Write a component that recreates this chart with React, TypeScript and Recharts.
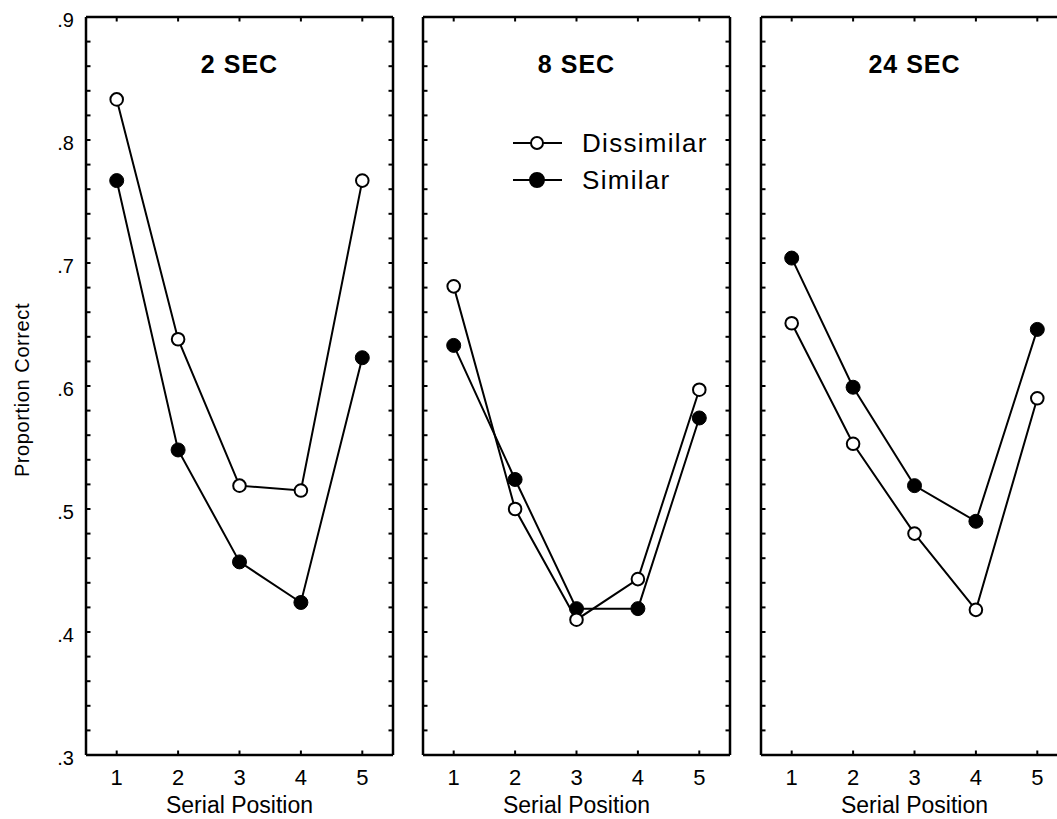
import React from 'react';
import { LineChart, Line, XAxis, YAxis, Legend } from 'recharts';

const positions = [1, 2, 3, 4, 5];
const panelTitles = ['2 SEC', '8 SEC', '24 SEC'];
const dissimilar2 = [0.833, 0.638, 0.519, 0.515, 0.767];
const similar2 = [0.767, 0.548, 0.457, 0.424, 0.623];
const dissimilar8 = [0.681, 0.5, 0.41, 0.443, 0.597];
const similar8 = [0.633, 0.524, 0.419, 0.419, 0.574];
const dissimilar24 = [0.651, 0.553, 0.48, 0.418, 0.59];
const similar24 = [0.704, 0.599, 0.519, 0.49, 0.646];
const yTicks = [
  0.3, 0.32, 0.34, 0.36, 0.38, 0.4, 0.42, 0.44, 0.46, 0.48, 0.5, 0.52, 0.54, 0.56, 0.58,
  0.6, 0.62, 0.64, 0.66, 0.68, 0.7, 0.72, 0.74, 0.76, 0.78, 0.8, 0.82, 0.84, 0.86, 0.88, 0.9,
];
const xTicks = [1, 2, 3, 4, 5];
const seriesNames = ['Dissimilar', 'Similar'];

const FONT = '"Liberation Sans", Arial, Helvetica, sans-serif';
const TICK_LEN = 4.5;

const isMajor = (v: number) => Math.abs(v * 10 - Math.round(v * 10)) < 1e-6;
const fmtY = (v: number) => v.toFixed(1).replace(/^0/, '');

const makeData = (dis: number[], sim: number[]) =>
  positions.map((p, i) => ({ pos: p, dis: dis[i], sim: sim[i] }));

const panels = [
  { title: panelTitles[0], data: makeData(dissimilar2, similar2), left: 0, yw: 86, labels: true, legend: false },
  { title: panelTitles[1], data: makeData(dissimilar8, similar8), left: 403, yw: 20, labels: false, legend: true },
  { title: panelTitles[2], data: makeData(dissimilar24, similar24), left: 741, yw: 20, labels: false, legend: false },
];

const LeftTick = (showLabel: boolean) => (props: any) => {
  const { x, y, payload } = props;
  const v = payload.value;
  return (
    <g>
      <line x1={x} x2={x + TICK_LEN} y1={y} y2={y} stroke="#000" strokeWidth={2} />
      {showLabel && isMajor(v) ? (
        <text x={x - 12} y={y + 10} textAnchor="end" fontSize={20} fontFamily={FONT} fill="#000">
          {fmtY(v)}
        </text>
      ) : null}
    </g>
  );
};

const RightTick = (props: any) => {
  const { x, y } = props;
  return <line x1={x} x2={x - TICK_LEN} y1={y} y2={y} stroke="#000" strokeWidth={2} />;
};

const BottomTick = (props: any) => {
  const { x, y, payload } = props;
  return (
    <g>
      <line x1={x} x2={x} y1={y} y2={y - TICK_LEN} stroke="#000" strokeWidth={2} />
      <text x={x} y={y + 30} textAnchor="middle" fontSize={22} fontFamily={FONT} fill="#000">
        {payload.value}
      </text>
    </g>
  );
};

const TopTick = (props: any) => {
  const { x, y } = props;
  return <line x1={x} x2={x} y1={y} y2={y + TICK_LEN} stroke="#000" strokeWidth={2} />;
};

const LegendContent = () => (
  <svg width={220} height={80} style={{ overflow: 'visible' }}>
    {seriesNames.map((name, i) => {
      const cy = 18 + i * 37;
      return (
        <g key={name}>
          <line x1={0} x2={49} y1={cy} y2={cy} stroke="#000" strokeWidth={2} />
          <circle
            cx={24}
            cy={cy}
            r={i === 0 ? 6 : 7}
            fill={i === 0 ? '#fff' : '#000'}
            stroke="#000"
            strokeWidth={2}
          />
          <text x={69} y={cy + 9} fontSize={26} fontFamily={FONT} fill="#000" letterSpacing={1.3}>
            {name}
          </text>
        </g>
      );
    })}
  </svg>
);

const axisLine = { stroke: '#000', strokeWidth: 2.5 };

function Panel({ p }: { p: (typeof panels)[number] }) {
  const width = p.yw + 307 + 7;
  return (
    <div style={{ position: 'absolute', left: p.left, top: 0 }}>
      <LineChart
        width={width}
        height={819}
        data={p.data}
        margin={{ top: 16, right: 6, left: 0, bottom: 0 }}
      >
        <XAxis
          xAxisId="b"
          dataKey="pos"
          type="number"
          domain={[0.5, 5.5]}
          ticks={xTicks}
          interval={0}
          allowDataOverflow
          orientation="bottom"
          height={64}
          tickSize={0}
          tickMargin={0}
          tickLine={false}
          axisLine={axisLine}
          tick={BottomTick}
          label={{
            value: 'Serial Position',
            content: (lp: any) => {
              const vb = lp.viewBox;
              return (
                <text
                  x={vb.x + vb.width / 2}
                  y={vb.y + 58}
                  textAnchor="middle"
                  fontSize={23}
                  fontFamily={FONT}
                  fill="#000"
                >
                  Serial Position
                </text>
              );
            },
          }}
        />
        <XAxis
          xAxisId="t"
          dataKey="pos"
          type="number"
          domain={[0.5, 5.5]}
          ticks={xTicks}
          interval={0}
          allowDataOverflow
          orientation="top"
          height={1}
          tickSize={0}
          tickMargin={0}
          tickLine={false}
          axisLine={axisLine}
          tick={TopTick}
          label={{
            value: p.title,
            content: (lp: any) => {
              const vb = lp.viewBox;
              return (
                <text
                  x={vb.x + vb.width / 2}
                  y={vb.y + vb.height + 56}
                  textAnchor="middle"
                  fontSize={25}
                  fontWeight="bold"
                  fontFamily={FONT}
                  letterSpacing={1}
                  fill="#000"
                >
                  {p.title}
                </text>
              );
            },
          }}
        />
        <YAxis
          yAxisId="l"
          type="number"
          domain={[0.3, 0.9]}
          ticks={yTicks}
          interval={0}
          allowDataOverflow
          orientation="left"
          width={p.yw}
          tickSize={0}
          tickMargin={0}
          tickLine={false}
          axisLine={axisLine}
          tick={LeftTick(p.labels)}
          label={
            p.labels
              ? {
                  value: 'Proportion Correct',
                  content: (lp: any) => {
                    const vb = lp.viewBox;
                    const cx = 22;
                    const cy = vb.y + vb.height / 2 + 4;
                    return (
                      <text
                        x={cx}
                        y={cy}
                        transform={`rotate(-90, ${cx}, ${cy})`}
                        textAnchor="middle"
                        dominantBaseline="central"
                        fontSize={20}
                        letterSpacing={0.6}
                        fontFamily={FONT}
                        fill="#000"
                      >
                        Proportion Correct
                      </text>
                    );
                  },
                }
              : undefined
          }
        />
        <YAxis
          yAxisId="r"
          type="number"
          domain={[0.3, 0.9]}
          ticks={yTicks}
          interval={0}
          allowDataOverflow
          orientation="right"
          width={1}
          tickSize={0}
          tickMargin={0}
          tickLine={false}
          axisLine={axisLine}
          tick={RightTick}
        />
        {p.legend ? (
          <Legend
            layout="vertical"
            align="center"
            verticalAlign="middle"
            content={LegendContent}
            wrapperStyle={{ left: 110, top: 125, width: 220, height: 80 }}
          />
        ) : null}
        <Line
          xAxisId="b"
          yAxisId="l"
          type="linear"
          dataKey="sim"
          name={seriesNames[1]}
          stroke="#000"
          strokeWidth={2}
          dot={{ r: 7, fill: '#000', stroke: '#000', strokeWidth: 1 }}
          isAnimationActive={false}
        />
        <Line
          xAxisId="b"
          yAxisId="l"
          type="linear"
          dataKey="dis"
          name={seriesNames[0]}
          stroke="#000"
          strokeWidth={2}
          dot={{ r: 6.3, fill: '#fff', stroke: '#000', strokeWidth: 2 }}
          isAnimationActive={false}
        />
      </LineChart>
    </div>
  );
}

export default function App() {
  return (
    <div
      style={{
        position: 'absolute',
        left: 0,
        top: 0,
        width: 1057,
        height: 819,
        overflow: 'hidden',
        background: '#fff',
      }}
    >
      {panels.map((p) => (
        <Panel key={p.title} p={p} />
      ))}
    </div>
  );
}
